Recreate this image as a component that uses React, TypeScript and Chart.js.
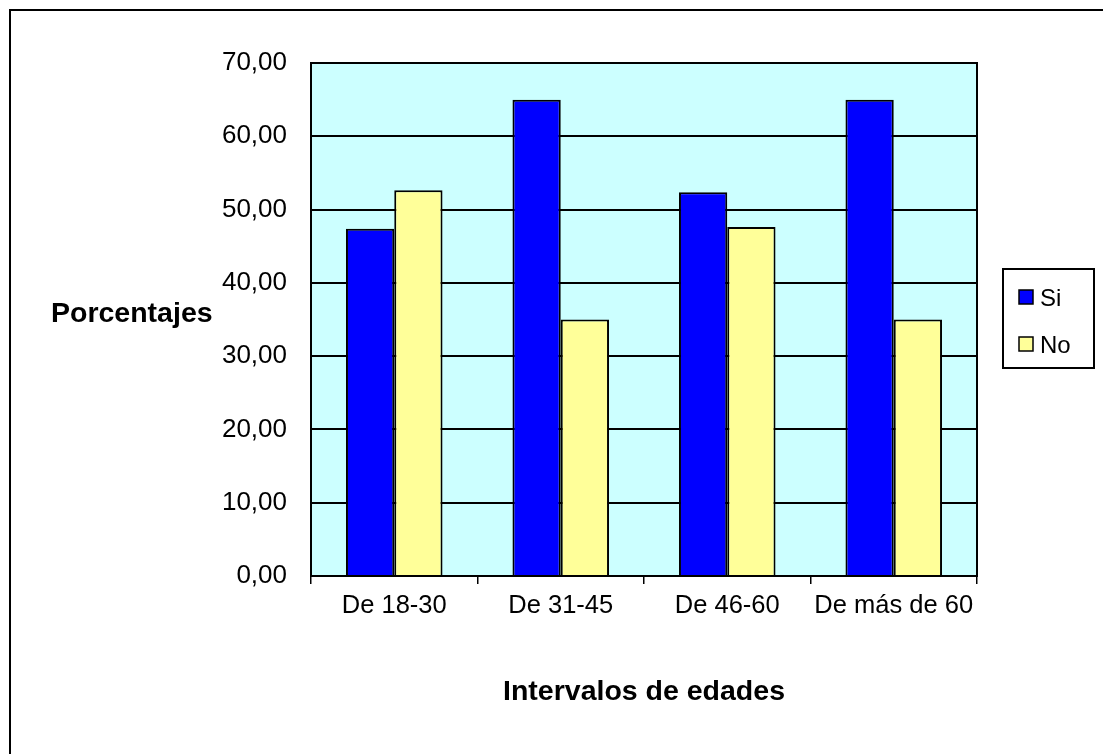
import React, { useEffect, useRef } from "react";
import { Chart, registerables } from "chart.js";

Chart.register(...registerables);

const categories = ["De 18-30", "De 31-45", "De 46-60", "De más de 60"];
const siValues = [47.37, 65.0, 52.38, 65.0];
const noValues = [52.63, 35.0, 47.62, 35.0];
const yTickLabels = ["0,00", "10,00", "20,00", "30,00", "40,00", "50,00", "60,00", "70,00"];
const yTitle = "Porcentajes";
const xTitle = "Intervalos de edades";

const FONT = "'Liberation Sans', Arial, sans-serif";

const decorPlugin = {
  id: "decor",
  beforeDraw(chart: any) {
    const { ctx, chartArea } = chart;
    ctx.save();
    ctx.fillStyle = "#CCFFFF";
    ctx.fillRect(chartArea.left, chartArea.top, chartArea.right - chartArea.left, chartArea.bottom - chartArea.top);
    ctx.restore();
  },
  beforeDatasetsDraw(chart: any) {
    const { ctx, chartArea } = chart;
    ctx.save();
    ctx.strokeStyle = "#000";
    ctx.lineWidth = 2;
    ctx.strokeRect(chartArea.left, chartArea.top, chartArea.right - chartArea.left, chartArea.bottom - chartArea.top);
    ctx.restore();
  },
  afterDraw(chart: any) {
    const { ctx, chartArea } = chart;
    ctx.save();
    ctx.fillStyle = "#000";
    ctx.font = `bold 28.5px ${FONT}`;
    ctx.textBaseline = "alphabetic";
    ctx.textAlign = "left";
    ctx.fillText(yTitle, 51, 322);
    ctx.textAlign = "center";
    ctx.fillText(xTitle, (chartArea.left + chartArea.right) / 2, 700);

    // legend
    const lx = 1003, ly = 269, lw = 91, lh = 99;
    ctx.lineWidth = 2;
    ctx.strokeStyle = "#000";
    ctx.strokeRect(lx, ly, lw, lh);
    ctx.font = `24px ${FONT}`;
    ctx.textAlign = "left";
    chart.data.datasets.forEach((ds: any, i: number) => {
      const sy = 290 + i * 47;
      ctx.fillStyle = ds.backgroundColor;
      ctx.fillRect(1019, sy, 14, 14);
      ctx.lineWidth = 1.5;
      ctx.strokeRect(1019, sy, 14, 14);
      ctx.fillStyle = "#000";
      ctx.fillText(ds.label, 1040, sy + 16);
    });
    ctx.restore();
  },
};

export default function App() {
  const ref = useRef<HTMLCanvasElement>(null);
  useEffect(() => {
    if (!ref.current) return;
    const chart = new Chart(ref.current, {
      type: "bar",
      data: {
        labels: categories,
        datasets: [
          {
            label: "Si",
            data: siValues,
            backgroundColor: "#0000FF",
            borderColor: "#000",
            borderWidth: 2,
            categoryPercentage: 0.58,
            barPercentage: 1,
          },
          {
            label: "No",
            data: noValues,
            backgroundColor: "#FFFF99",
            borderColor: "#000",
            borderWidth: 2,
            categoryPercentage: 0.58,
            barPercentage: 1,
          },
        ],
      },
      options: {
        animation: false,
        responsive: false,
        devicePixelRatio: 1,
        layout: { padding: { top: 63, right: 126, left: 0, bottom: 0 } },
        plugins: { legend: { display: false }, tooltip: { enabled: false } },
        scales: {
          x: {
            grid: { offset: true, drawOnChartArea: false, drawTicks: true, tickLength: 8, color: "#000", lineWidth: 1.5 },
            border: { display: true, color: "#000", width: 2 },
            ticks: { color: "#000", font: { family: FONT, size: 25.5 }, padding: 7, maxRotation: 0 },
            afterFit: (s: any) => { s.height = 178; },
          },
          y: {
            min: 0,
            max: 70,
            ticks: {
              stepSize: 10,
              color: "#000",
              font: { family: FONT, size: 26 },
              padding: 24,
              callback: (_v: any, i: number) => yTickLabels[i],
            },
            grid: { color: "#000", lineWidth: 2, drawTicks: false },
            border: { display: true, color: "#000", width: 2 },
            afterFit: (s: any) => { s.width = 311; },
          },
        },
      },
      plugins: [decorPlugin],
    });
    return () => chart.destroy();
  }, []);
  return (
    <>
      <div style={{ position: "fixed", left: 9, top: 9, width: 1300, height: 1000, border: "2px solid #000", boxSizing: "border-box" }} />
      <canvas ref={ref} width={1103} height={754} style={{ position: "fixed", left: 0, top: 0 }} />
    </>
  );
}
